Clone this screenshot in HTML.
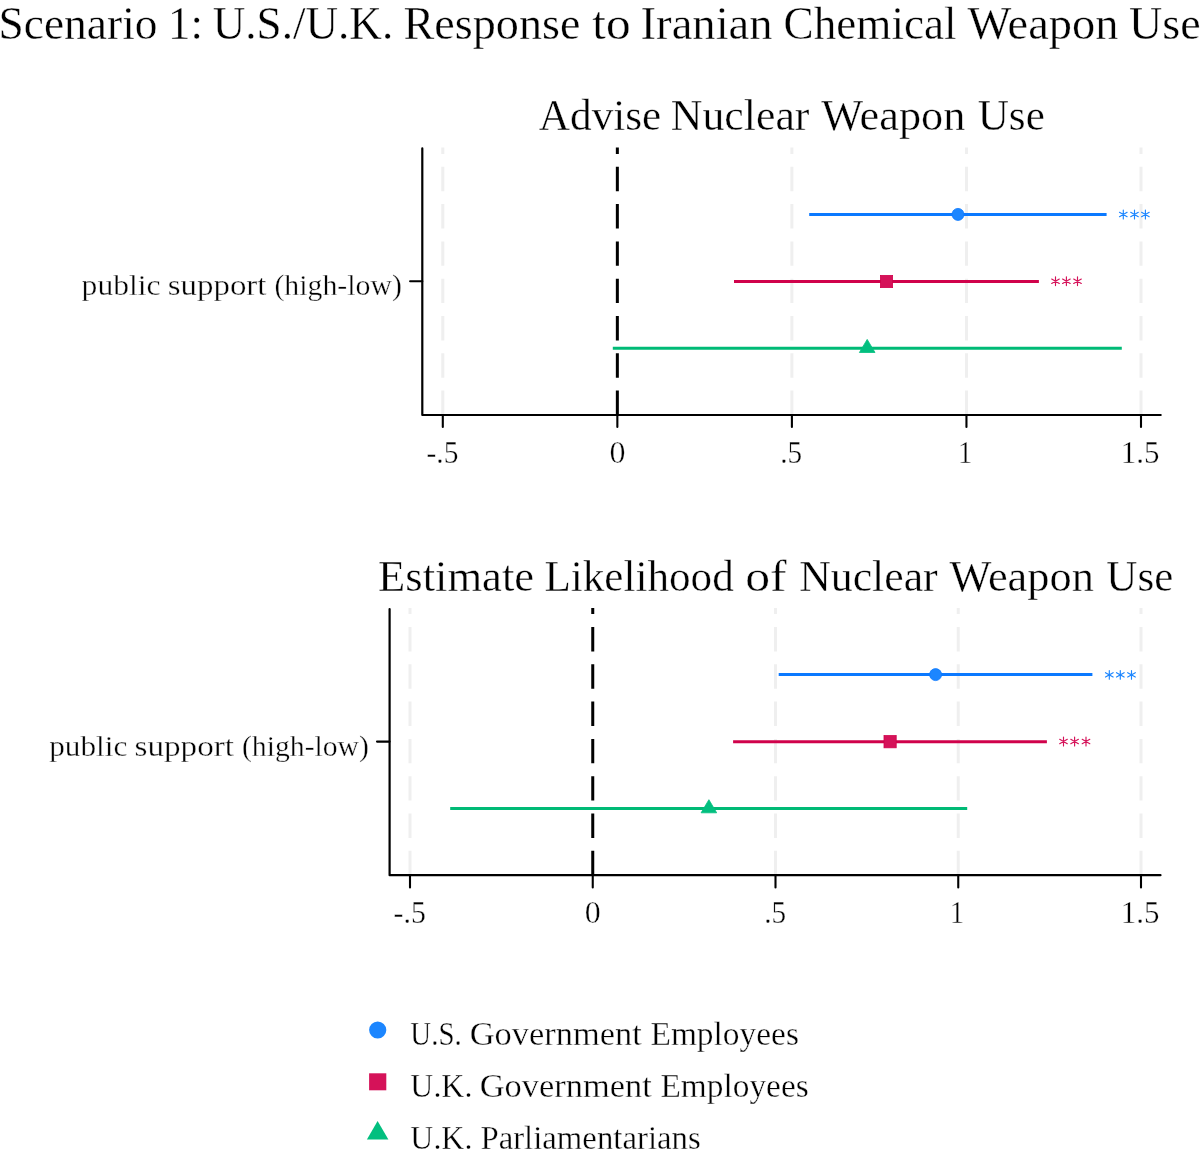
<!DOCTYPE html>
<html><head><meta charset="utf-8"><style>
html,body{margin:0;padding:0;background:#fff;}
svg{display:block;will-change:transform;}
text{font-family:"Liberation Serif", serif;fill:#000;stroke:#fff;stroke-width:0.35px;}
</style></head><body>
<svg width="1200" height="1159" viewBox="0 0 1200 1159">
<rect width="1200" height="1159" fill="#fff"/>
<line x1="442.80" y1="415.00" x2="442.80" y2="147.40" stroke="#EFEFEF" stroke-width="3" stroke-dasharray="24.4 12.9"/>
<line x1="791.90" y1="415.00" x2="791.90" y2="147.40" stroke="#EFEFEF" stroke-width="3" stroke-dasharray="24.4 12.9"/>
<line x1="966.45" y1="415.00" x2="966.45" y2="147.40" stroke="#EFEFEF" stroke-width="3" stroke-dasharray="24.4 12.9"/>
<line x1="1141.00" y1="415.00" x2="1141.00" y2="147.40" stroke="#EFEFEF" stroke-width="3" stroke-dasharray="24.4 12.9"/>
<line x1="617.35" y1="415.00" x2="617.35" y2="147.40" stroke="#000" stroke-width="3" stroke-dasharray="24.4 12.9"/>
<path d="M422.30 148.40V415.00H1160.70" stroke="#000" stroke-width="2.2" fill="none" stroke-linecap="round" stroke-linejoin="round"/>
<line x1="442.80" y1="415.00" x2="442.80" y2="427.00" stroke="#000" stroke-width="2.1" stroke-linecap="round"/>
<line x1="617.35" y1="415.00" x2="617.35" y2="427.00" stroke="#000" stroke-width="2.1" stroke-linecap="round"/>
<line x1="791.90" y1="415.00" x2="791.90" y2="427.00" stroke="#000" stroke-width="2.1" stroke-linecap="round"/>
<line x1="966.45" y1="415.00" x2="966.45" y2="427.00" stroke="#000" stroke-width="2.1" stroke-linecap="round"/>
<line x1="1141.00" y1="415.00" x2="1141.00" y2="427.00" stroke="#000" stroke-width="2.1" stroke-linecap="round"/>
<line x1="410.10" y1="281.25" x2="422.30" y2="281.25" stroke="#000" stroke-width="2.1" stroke-linecap="round"/>
<line x1="809.20" y1="214.40" x2="1106.60" y2="214.40" stroke="#0B79FF" stroke-width="3"/>
<circle cx="958.00" cy="214.40" r="6.0" fill="#1C86FF" stroke="#0B79FF" stroke-width="0.8"/>
<path d="M1123.30 210.10L1123.30 218.90M1119.49 212.30L1127.11 216.70M1119.49 216.70L1127.11 212.30" stroke="#1C86FF" stroke-width="1.15" fill="none" stroke-linecap="round"/>
<path d="M1134.50 210.10L1134.50 218.90M1130.69 212.30L1138.31 216.70M1130.69 216.70L1138.31 212.30" stroke="#1C86FF" stroke-width="1.15" fill="none" stroke-linecap="round"/>
<path d="M1145.40 210.10L1145.40 218.90M1141.59 212.30L1149.21 216.70M1141.59 216.70L1149.21 212.30" stroke="#1C86FF" stroke-width="1.15" fill="none" stroke-linecap="round"/>
<line x1="734.00" y1="281.50" x2="1038.90" y2="281.50" stroke="#D0024B" stroke-width="3"/>
<rect x="880.40" y="275.40" width="12.2" height="12.2" fill="#D51259" stroke="#D0024B" stroke-width="0.8"/>
<path d="M1055.50 276.80L1055.50 285.60M1051.69 279.00L1059.31 283.40M1051.69 283.40L1059.31 279.00" stroke="#D51259" stroke-width="1.15" fill="none" stroke-linecap="round"/>
<path d="M1066.40 276.80L1066.40 285.60M1062.59 279.00L1070.21 283.40M1062.59 283.40L1070.21 279.00" stroke="#D51259" stroke-width="1.15" fill="none" stroke-linecap="round"/>
<path d="M1077.50 276.80L1077.50 285.60M1073.69 279.00L1081.31 283.40M1073.69 283.40L1081.31 279.00" stroke="#D51259" stroke-width="1.15" fill="none" stroke-linecap="round"/>
<line x1="612.80" y1="348.30" x2="1121.80" y2="348.30" stroke="#00BA76" stroke-width="3"/>
<path d="M867.20 339.40L875.00 352.50H859.40Z" fill="#02BF7F" stroke="#02BF7F" stroke-width="0.8" stroke-linejoin="round"/>
<line x1="410.00" y1="875.20" x2="410.00" y2="608.00" stroke="#EFEFEF" stroke-width="3" stroke-dasharray="24.4 12.9"/>
<line x1="775.50" y1="875.20" x2="775.50" y2="608.00" stroke="#EFEFEF" stroke-width="3" stroke-dasharray="24.4 12.9"/>
<line x1="958.25" y1="875.20" x2="958.25" y2="608.00" stroke="#EFEFEF" stroke-width="3" stroke-dasharray="24.4 12.9"/>
<line x1="1141.00" y1="875.20" x2="1141.00" y2="608.00" stroke="#EFEFEF" stroke-width="3" stroke-dasharray="24.4 12.9"/>
<line x1="592.75" y1="875.20" x2="592.75" y2="608.00" stroke="#000" stroke-width="3" stroke-dasharray="24.4 12.9"/>
<path d="M389.60 609.00V875.20H1160.50" stroke="#000" stroke-width="2.2" fill="none" stroke-linecap="round" stroke-linejoin="round"/>
<line x1="410.00" y1="875.20" x2="410.00" y2="887.40" stroke="#000" stroke-width="2.1" stroke-linecap="round"/>
<line x1="592.75" y1="875.20" x2="592.75" y2="887.40" stroke="#000" stroke-width="2.1" stroke-linecap="round"/>
<line x1="775.50" y1="875.20" x2="775.50" y2="887.40" stroke="#000" stroke-width="2.1" stroke-linecap="round"/>
<line x1="958.25" y1="875.20" x2="958.25" y2="887.40" stroke="#000" stroke-width="2.1" stroke-linecap="round"/>
<line x1="1141.00" y1="875.20" x2="1141.00" y2="887.40" stroke="#000" stroke-width="2.1" stroke-linecap="round"/>
<line x1="377.00" y1="741.60" x2="389.60" y2="741.60" stroke="#000" stroke-width="2.1" stroke-linecap="round"/>
<line x1="778.70" y1="674.60" x2="1092.40" y2="674.60" stroke="#0B79FF" stroke-width="3"/>
<circle cx="935.60" cy="674.60" r="6.0" fill="#1C86FF" stroke="#0B79FF" stroke-width="0.8"/>
<path d="M1109.30 670.45L1109.30 679.25M1105.49 672.65L1113.11 677.05M1105.49 677.05L1113.11 672.65" stroke="#1C86FF" stroke-width="1.15" fill="none" stroke-linecap="round"/>
<path d="M1120.30 670.45L1120.30 679.25M1116.49 672.65L1124.11 677.05M1116.49 677.05L1124.11 672.65" stroke="#1C86FF" stroke-width="1.15" fill="none" stroke-linecap="round"/>
<path d="M1131.50 670.45L1131.50 679.25M1127.69 672.65L1135.31 677.05M1127.69 677.05L1135.31 672.65" stroke="#1C86FF" stroke-width="1.15" fill="none" stroke-linecap="round"/>
<line x1="733.10" y1="741.70" x2="1046.90" y2="741.70" stroke="#D0024B" stroke-width="3"/>
<rect x="884.00" y="735.60" width="12.2" height="12.2" fill="#D51259" stroke="#D0024B" stroke-width="0.8"/>
<path d="M1063.50 737.10L1063.50 745.90M1059.69 739.30L1067.31 743.70M1059.69 743.70L1067.31 739.30" stroke="#D51259" stroke-width="1.15" fill="none" stroke-linecap="round"/>
<path d="M1074.60 737.10L1074.60 745.90M1070.79 739.30L1078.41 743.70M1070.79 743.70L1078.41 739.30" stroke="#D51259" stroke-width="1.15" fill="none" stroke-linecap="round"/>
<path d="M1086.00 737.10L1086.00 745.90M1082.19 739.30L1089.81 743.70M1082.19 743.70L1089.81 739.30" stroke="#D51259" stroke-width="1.15" fill="none" stroke-linecap="round"/>
<line x1="450.20" y1="808.50" x2="967.20" y2="808.50" stroke="#00BA76" stroke-width="3"/>
<path d="M708.90 799.70L716.70 812.80H701.10Z" fill="#02BF7F" stroke="#02BF7F" stroke-width="0.8" stroke-linejoin="round"/>
<circle cx="377.7" cy="1030" r="8.6" fill="#1C86FF"/>
<rect x="369.1" y="1073.3" width="17.2" height="17.0" fill="#D51259"/>
<path d="M377.6 1120.9L388.4 1139.6H366.9Z" fill="#02BF7F"/>
<text x="-1.55" y="39.00" font-size="46" textLength="159.09" lengthAdjust="spacingAndGlyphs">Scenario</text>
<text x="168.00" y="39.00" font-size="46" textLength="34.86" lengthAdjust="spacingAndGlyphs">1:</text>
<text x="212.76" y="39.00" font-size="46" textLength="180.44" lengthAdjust="spacingAndGlyphs">U.S./U.K.</text>
<text x="403.54" y="39.00" font-size="46" textLength="176.92" lengthAdjust="spacingAndGlyphs">Response</text>
<text x="592.20" y="39.00" font-size="46" textLength="38.34" lengthAdjust="spacingAndGlyphs">to</text>
<text x="640.60" y="39.00" font-size="46" textLength="132.06" lengthAdjust="spacingAndGlyphs">Iranian</text>
<text x="783.54" y="39.00" font-size="46" textLength="173.06" lengthAdjust="spacingAndGlyphs">Chemical</text>
<text x="967.50" y="39.00" font-size="46" textLength="150.88" lengthAdjust="spacingAndGlyphs">Weapon</text>
<text x="1129.12" y="39.00" font-size="46" textLength="71.63" lengthAdjust="spacingAndGlyphs">Use</text>
<text x="538.84" y="130.30" font-size="44" textLength="122.48" lengthAdjust="spacingAndGlyphs">Advise</text>
<text x="670.76" y="130.30" font-size="44" textLength="138.68" lengthAdjust="spacingAndGlyphs">Nuclear</text>
<text x="821.28" y="130.30" font-size="44" textLength="144.10" lengthAdjust="spacingAndGlyphs">Weapon</text>
<text x="977.70" y="130.30" font-size="44" textLength="67.12" lengthAdjust="spacingAndGlyphs">Use</text>
<text x="378.04" y="590.80" font-size="44" textLength="156.06" lengthAdjust="spacingAndGlyphs">Estimate</text>
<text x="544.40" y="590.80" font-size="44" textLength="189.40" lengthAdjust="spacingAndGlyphs">Likelihood</text>
<text x="745.18" y="590.80" font-size="44" textLength="41.32" lengthAdjust="spacingAndGlyphs">of</text>
<text x="799.18" y="590.80" font-size="44" textLength="138.54" lengthAdjust="spacingAndGlyphs">Nuclear</text>
<text x="949.56" y="590.80" font-size="44" textLength="144.32" lengthAdjust="spacingAndGlyphs">Weapon</text>
<text x="1106.34" y="590.80" font-size="44" textLength="66.91" lengthAdjust="spacingAndGlyphs">Use</text>
<text x="81.62" y="295.40" font-size="30" textLength="78.98" lengthAdjust="spacingAndGlyphs">public</text>
<text x="167.76" y="295.40" font-size="30" textLength="98.68" lengthAdjust="spacingAndGlyphs">support</text>
<text x="274.40" y="295.40" font-size="30" textLength="127.62" lengthAdjust="spacingAndGlyphs">(high-low)</text>
<text x="49.20" y="755.70" font-size="30" textLength="78.18" lengthAdjust="spacingAndGlyphs">public</text>
<text x="134.54" y="755.70" font-size="30" textLength="99.48" lengthAdjust="spacingAndGlyphs">support</text>
<text x="241.98" y="755.70" font-size="30" textLength="126.97" lengthAdjust="spacingAndGlyphs">(high-low)</text>
<text x="426.55" y="462.50" font-size="31" textLength="31.90" lengthAdjust="spacingAndGlyphs">-.5</text>
<text x="609.62" y="462.50" font-size="31" textLength="15.98" lengthAdjust="spacingAndGlyphs">0</text>
<text x="780.24" y="462.50" font-size="31" textLength="21.92" lengthAdjust="spacingAndGlyphs">.5</text>
<text x="958.02" y="462.50" font-size="31" textLength="14.38" lengthAdjust="spacingAndGlyphs">1</text>
<text x="1120.72" y="462.50" font-size="31" textLength="38.66" lengthAdjust="spacingAndGlyphs">1.5</text>
<text x="393.62" y="922.70" font-size="31" textLength="32.26" lengthAdjust="spacingAndGlyphs">-.5</text>
<text x="584.76" y="922.70" font-size="31" textLength="15.98" lengthAdjust="spacingAndGlyphs">0</text>
<text x="764.32" y="922.70" font-size="31" textLength="21.92" lengthAdjust="spacingAndGlyphs">.5</text>
<text x="949.66" y="922.70" font-size="31" textLength="14.38" lengthAdjust="spacingAndGlyphs">1</text>
<text x="1120.72" y="922.70" font-size="31" textLength="38.66" lengthAdjust="spacingAndGlyphs">1.5</text>
<text x="410.34" y="1045.20" font-size="33" textLength="51.34" lengthAdjust="spacingAndGlyphs">U.S.</text>
<text x="469.68" y="1045.20" font-size="33" textLength="172.12" lengthAdjust="spacingAndGlyphs">Government</text>
<text x="650.48" y="1045.20" font-size="33" textLength="148.48" lengthAdjust="spacingAndGlyphs">Employees</text>
<text x="410.34" y="1097.30" font-size="33" textLength="62.06" lengthAdjust="spacingAndGlyphs">U.K.</text>
<text x="479.68" y="1097.30" font-size="33" textLength="172.12" lengthAdjust="spacingAndGlyphs">Government</text>
<text x="660.48" y="1097.30" font-size="33" textLength="148.26" lengthAdjust="spacingAndGlyphs">Employees</text>
<text x="410.34" y="1149.00" font-size="33" textLength="62.06" lengthAdjust="spacingAndGlyphs">U.K.</text>
<text x="480.40" y="1149.00" font-size="33" textLength="220.34" lengthAdjust="spacingAndGlyphs">Parliamentarians</text>
</svg>
</body></html>
